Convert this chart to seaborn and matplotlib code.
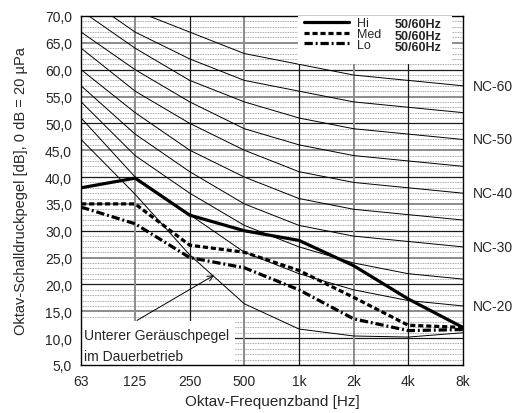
import numpy as np
import pandas as pd
import matplotlib
matplotlib.use("Agg")
import matplotlib.pyplot as plt
from matplotlib.patches import Rectangle
from matplotlib.ticker import FixedLocator, FuncFormatter, NullFormatter
import seaborn as sns

# Oktavbaender
freqs = [63, 125, 250, 500, 1000, 2000, 4000, 8000]
freq_labels = ["63", "125", "250", "500", "1k", "2k", "4k", "8k"]

hi = [38.0, 39.8, 32.9, 30.0, 28.2, 23.5, 17.3, 12.0]
med = [35.0, 35.0, 27.3, 26.0, 22.6, 17.6, 12.4, 12.0]
lo = [34.4, 31.3, 25.0, 23.1, 19.0, 13.6, 11.4, 11.6]

# NC-Kurven
nc_20 = [51, 40, 33, 26, 22, 19, 17, 16]
nc_25 = [54, 44, 37, 31, 27, 24, 22, 21]
nc_30 = [57, 48, 41, 35, 31, 29, 28, 27]
nc_35 = [60, 52, 45, 40, 36, 34, 33, 32]
nc_40 = [64, 56, 50, 45, 41, 39, 38, 37]
nc_45 = [67, 60, 54, 49, 46, 44, 43, 42]
nc_50 = [71, 64, 58, 54, 51, 49, 48, 47]
nc_55 = [74, 67, 62, 58, 56, 54, 53, 52]
nc_60 = [77, 71, 67, 63, 61, 59, 58, 57]
# untere Kurve (Geraeuschpegel im Dauerbetrieb)
lower = [47.0, 36.8, 25.5, 16.4, 11.7, 10.4, 10.2, 11.0]

nc_names = ["NC-20", "NC-25", "NC-30", "NC-35", "NC-40", "NC-45", "NC-50", "NC-55", "NC-60"]
nc_values = [nc_20, nc_25, nc_30, nc_35, nc_40, nc_45, nc_50, nc_55, nc_60]
nc_labelled = ["NC-20", "NC-30", "NC-40", "NC-50", "NC-60"]

sns.set_style("white")
plt.rcParams["font.family"] = ["Liberation Sans", "DejaVu Sans"]

fig = plt.figure(figsize=(5.2, 4.14), dpi=100)
ax = fig.add_axes([0.156, 0.116, 0.734, 0.843])

# NC Kurven als langes DataFrame
rows = []
for name, vals in zip(nc_names + ["lower"], nc_values + [lower]):
    for f, v in zip(freqs, vals):
        rows.append({"curve": name, "freq": f, "db": v})
nc_df = pd.DataFrame(rows)
sns.lineplot(data=nc_df, x="freq", y="db", units="curve", estimator=None,
             color="black", linewidth=0.7, ax=ax, zorder=3)

# Geraetekurven
sns.lineplot(x=freqs, y=hi, color="black", linewidth=2.3, ax=ax, zorder=4)
l_hi = ax.lines[-1]
sns.lineplot(x=freqs, y=med, color="black", linewidth=2.3, ax=ax, zorder=4)
l_med = ax.lines[-1]
l_med.set_dashes((1.6, 0.9))
sns.lineplot(x=freqs, y=lo, color="black", linewidth=2.3, ax=ax, zorder=4)
l_lo = ax.lines[-1]
l_lo.set_dashes((2.6, 0.9, 0.6, 0.9))

ax.set_xscale("log", base=2)
ax.set_xlim(63, 8000)
ax.set_ylim(5, 70)

# Gitter
for y in range(6, 70):
    if y % 5:
        ax.axhline(y, color="#8a8a8a", lw=0.6, ls=(0, (1, 1)), zorder=1)
for y in range(10, 70, 5):
    if y % 10 == 0:
        ax.axhline(y, color="#1a1a1a", lw=0.9, zorder=1.5)
    else:
        ax.axhline(y, color="#8c8c8c", lw=1.4, zorder=1.5)
for i, f in enumerate(freqs[1:-1]):
    if i % 2 == 0:
        ax.axvline(f, color="#8c8c8c", lw=1.4, zorder=1.5)
    else:
        ax.axvline(f, color="#1a1a1a", lw=0.9, zorder=1.5)

# Ticks
ax.xaxis.set_major_locator(FixedLocator(freqs))
ax.xaxis.set_major_formatter(FuncFormatter(lambda v, p: freq_labels[freqs.index(int(round(v)))] if int(round(v)) in freqs else ""))
mids = [np.sqrt(a * b) for a, b in zip(freqs[:-1], freqs[1:])]
ax.xaxis.set_minor_locator(FixedLocator(mids))
ax.xaxis.set_minor_formatter(NullFormatter())
ax.yaxis.set_major_locator(FixedLocator(list(range(5, 71, 5))))
ax.yaxis.set_major_formatter(FuncFormatter(lambda v, p: f"{v:.1f}".replace(".", ",")))
ax.yaxis.set_minor_locator(FixedLocator(list(range(5, 71))))
ax.tick_params(axis="both", which="major", length=0, labelsize=10, pad=6.5)
ax.tick_params(axis="x", which="minor", direction="in", length=4, width=0.8, color="black")
ax.tick_params(axis="y", which="minor", direction="in", length=2, width=0.6, color="black")
for s in ax.spines.values():
    s.set_color("black")
    s.set_linewidth(1.0)

ax.set_xlabel("Oktav-Frequenzband [Hz]", fontsize=11, labelpad=4)
ax.set_ylabel("Oktav-Schalldruckpegel [dB], 0 dB = 20 µPa", fontsize=10.5, labelpad=12)

# NC Beschriftung rechts
for name, vals in zip(nc_names, nc_values):
    if name in nc_labelled:
        ax.annotate(name, xy=(freqs[-1], vals[-1]), xytext=(7, 0), textcoords="offset points",
                    va="center", ha="left", fontsize=10, annotation_clip=False)

# Textfeld unten links
ax.add_patch(Rectangle((0.0, 0.0), 0.403, 0.126, transform=ax.transAxes,
                       facecolor="white", edgecolor="none", zorder=2))
ax.text(0.008, 0.087, "Unterer Geräuschpegel", transform=ax.transAxes, fontsize=10,
        va="center", ha="left", zorder=5)
ax.text(0.008, 0.025, "im Dauerbetrieb", transform=ax.transAxes, fontsize=10,
        va="center", ha="left", zorder=5)
ax.annotate("", xy=(340, 21.7), xytext=(128, 13.3),
            arrowprops=dict(arrowstyle="->", color="black", lw=0.7, shrinkA=0, shrinkB=0),
            zorder=5)

# Legende
ax.add_patch(Rectangle((0.568, 0.862), 0.403, 0.138, transform=ax.transAxes,
                       facecolor="white", edgecolor="none", zorder=6))
leg = ax.legend([l_hi, l_med, l_lo], ["Hi", "Med", "Lo"], loc="upper left",
                bbox_to_anchor=(0.584, 0.997), frameon=False, fontsize=9,
                handlelength=3.6, handletextpad=0.6, labelspacing=-0.09,
                borderpad=0.0, borderaxespad=0.0)
leg.set_zorder(7)
for yy in [0.977, 0.944, 0.911]:
    ax.text(0.822, yy, "50/60Hz", transform=ax.transAxes, fontsize=9,
            fontweight="bold", va="center", ha="left", zorder=8)

fig.savefig("out.png", dpi=100)
